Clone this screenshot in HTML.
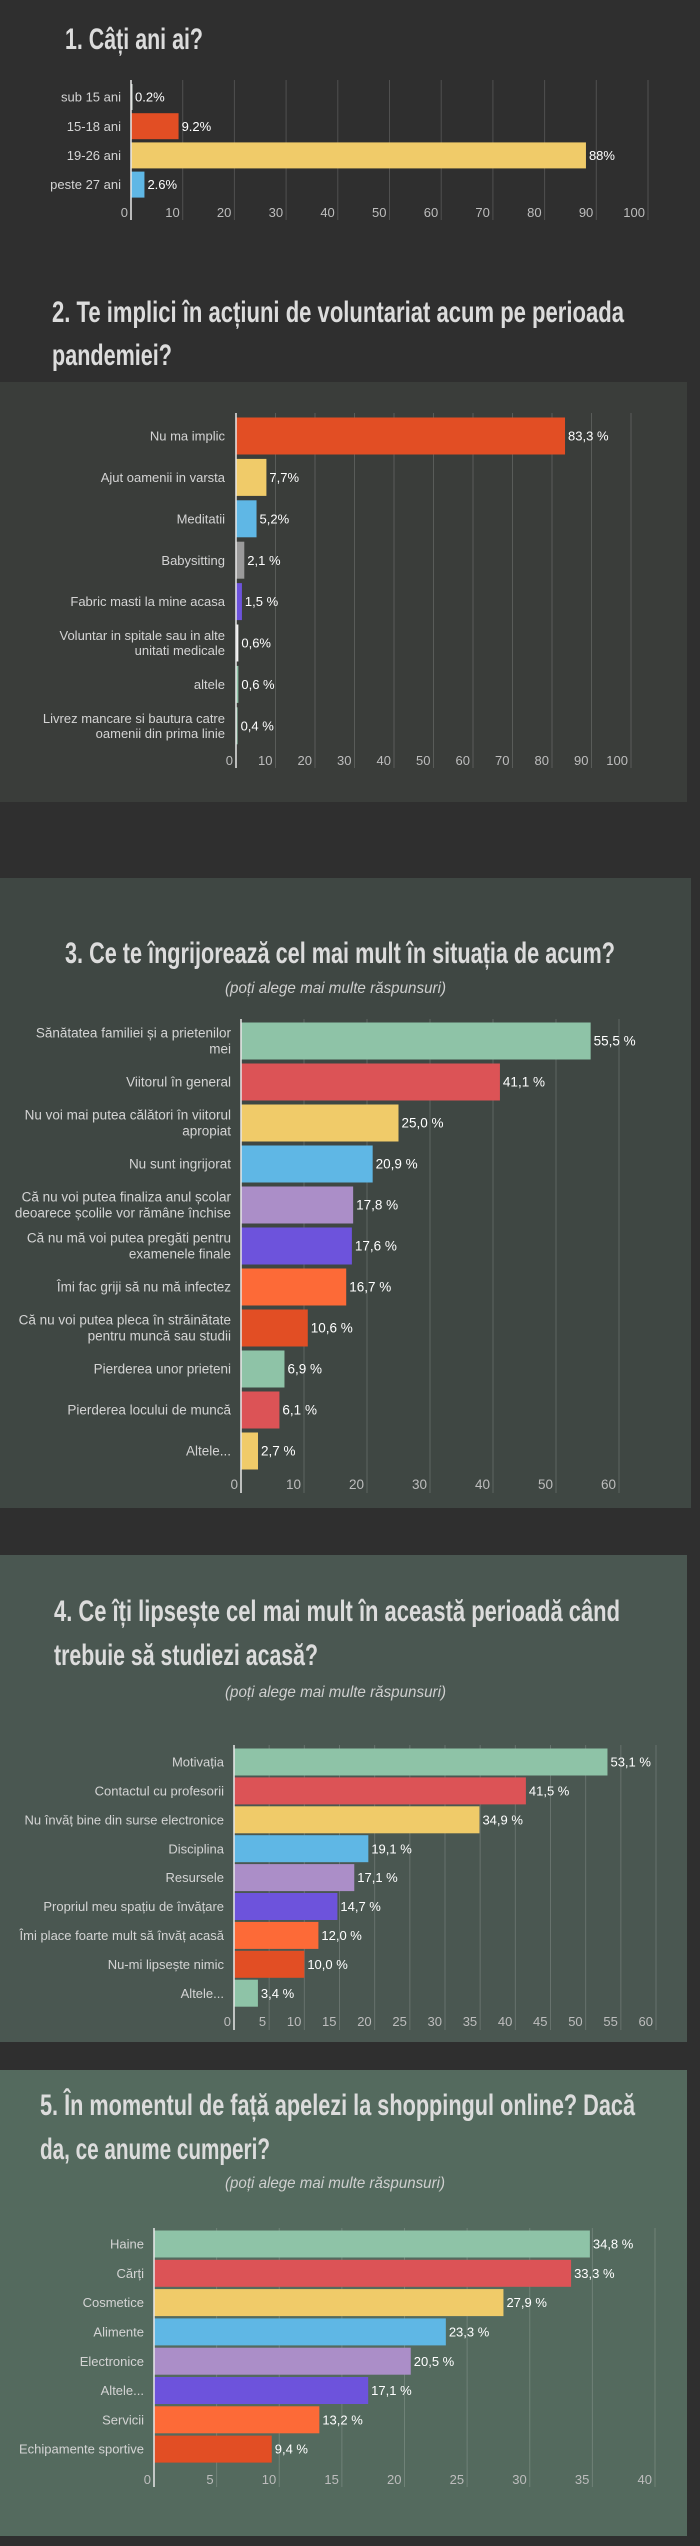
<!DOCTYPE html>
<html><head><meta charset="utf-8">
<style>
html,body{margin:0;padding:0;background:#2f2f2f;}
svg{display:block;}
.t{font-family:"Liberation Sans Narrow","Liberation Sans",sans-serif;font-weight:bold;fill:#dcdcdc;}
.sub{font-family:"Liberation Sans Narrow","Liberation Sans",sans-serif;font-style:italic;fill:#cfcfcf;font-size:16px;}
.lab{font-family:"Liberation Sans Narrow","Liberation Sans",sans-serif;fill:#d4d4d4;}
.val{font-family:"Liberation Sans Narrow","Liberation Sans",sans-serif;fill:#ffffff;}
.tick{font-family:"Liberation Sans Narrow","Liberation Sans",sans-serif;fill:#bdbdbd;}
</style></head>
<body>
<svg id="page" xmlns="http://www.w3.org/2000/svg" width="700" height="2546" viewBox="0 0 700 2546">
<rect x="0" y="0" width="700" height="2546" fill="#2f2f2f"/>
<rect x="0" y="382" width="687" height="420" fill="#3a3d3a"/>
<rect x="0" y="878" width="691" height="630" fill="#3f4743"/>
<rect x="0" y="1555" width="687" height="487" fill="#4a5751"/>
<rect x="0" y="2070" width="687" height="466" fill="#546a5e"/>

<text class="t" x="65" y="49" font-size="30" textLength="138" lengthAdjust="spacingAndGlyphs">1. Câți ani ai?</text>
<text class="t" x="52" y="322" font-size="30" textLength="572" lengthAdjust="spacingAndGlyphs">2. Te implici în acțiuni de voluntariat acum pe perioada</text>
<text class="t" x="52" y="365" font-size="30" textLength="120" lengthAdjust="spacingAndGlyphs">pandemiei?</text>
<text class="t" x="65" y="963" font-size="30" textLength="550" lengthAdjust="spacingAndGlyphs">3. Ce te îngrijorează cel mai mult în situația de acum?</text>
<text class="sub" x="225" y="993" textLength="221" lengthAdjust="spacingAndGlyphs">(poți alege mai multe răspunsuri)</text>
<text class="t" x="54" y="1621" font-size="30" textLength="566" lengthAdjust="spacingAndGlyphs">4. Ce îți lipsește cel mai mult în această perioadă când</text>
<text class="t" x="54" y="1665" font-size="30" textLength="264" lengthAdjust="spacingAndGlyphs">trebuie să studiezi acasă?</text>
<text class="sub" x="225" y="1697" textLength="221" lengthAdjust="spacingAndGlyphs">(poți alege mai multe răspunsuri)</text>
<text class="t" x="40" y="2115" font-size="30" textLength="595" lengthAdjust="spacingAndGlyphs">5. În momentul de față apelezi la shoppingul online? Dacă</text>
<text class="t" x="40" y="2159" font-size="30" textLength="230" lengthAdjust="spacingAndGlyphs">da, ce anume cumperi?</text>
<text class="sub" x="225" y="2188" textLength="220" lengthAdjust="spacingAndGlyphs">(poți alege mai multe răspunsuri)</text>
</svg>
<script>
// ---- Chart 1 data ----
const cats1 = [["sub 15 ani"],["15-18 ani"],["19-26 ani"],["peste 27 ani"]];
const vals1 = [0.2, 9.2, 88, 2.6];
const valLabels1 = ["0.2%","9.2%","88%","2.6%"];
const ticks1 = [0,10,20,30,40,50,60,70,80,90,100];
const colors1 = ["#cfd8d3","#e24e24","#f0cb69","#5fb7e5"];
// ---- Chart 2 data ----
const cats2 = [["Nu ma implic"],["Ajut oamenii in varsta"],["Meditatii"],["Babysitting"],["Fabric masti la mine acasa"],["Voluntar in spitale sau in alte","unitati medicale"],["altele"],["Livrez mancare si bautura catre","oamenii din prima linie"]];
const vals2 = [83.3, 7.7, 5.2, 2.1, 1.5, 0.6, 0.6, 0.4];
const valLabels2 = ["83,3 %","7,7%","5,2%","2,1 %","1,5 %","0,6%","0,6 %","0,4 %"];
const ticks2 = [0,10,20,30,40,50,60,70,80,90,100];
const colors2 = ["#e24e24","#f0cb69","#5fb7e5","#9a9a9a","#6d53dc","#f2f2f2","#8ec3a7","#8ec3a7"];
// ---- Chart 3 data ----
const cats3 = [["Sănătatea familiei și a prietenilor","mei"],["Viitorul în general"],["Nu voi mai putea călători în viitorul","apropiat"],["Nu sunt ingrijorat"],["Că nu voi putea finaliza anul școlar","deoarece școlile vor rămâne închise"],["Că nu mă voi putea pregăti pentru","examenele finale"],["Îmi fac griji să nu mă infectez"],["Că nu voi putea pleca în străinătate","pentru muncă sau studii"],["Pierderea unor prieteni"],["Pierderea locului de muncă"],["Altele..."]];
const vals3 = [55.5, 41.1, 25.0, 20.9, 17.8, 17.6, 16.7, 10.6, 6.9, 6.1, 2.7];
const valLabels3 = ["55,5 %","41,1 %","25,0 %","20,9 %","17,8 %","17,6 %","16,7 %","10,6 %","6,9 %","6,1 %","2,7 %"];
const ticks3 = [0,10,20,30,40,50,60];
const colors3 = ["#8ec3a7","#dc5356","#f0cb69","#5fb7e5","#ab8ec8","#6d53dc","#fd6a37","#e24e24","#8ec3a7","#dc5356","#f0cb69"];
// ---- Chart 4 data ----
const cats4 = [["Motivația"],["Contactul cu profesorii"],["Nu învăț bine din surse electronice"],["Disciplina"],["Resursele"],["Propriul meu spațiu de învățare"],["Îmi place foarte mult să învăț acasă"],["Nu-mi lipsește nimic"],["Altele..."]];
const vals4 = [53.1, 41.5, 34.9, 19.1, 17.1, 14.7, 12.0, 10.0, 3.4];
const valLabels4 = ["53,1 %","41,5 %","34,9 %","19,1 %","17,1 %","14,7 %","12,0 %","10,0 %","3,4 %"];
const ticks4 = [0,5,10,15,20,25,30,35,40,45,50,55,60];
const colors4 = ["#8ec3a7","#dc5356","#f0cb69","#5fb7e5","#ab8ec8","#6d53dc","#fd6a37","#e24e24","#8ec3a7"];
// ---- Chart 5 data ----
const cats5 = [["Haine"],["Cărți"],["Cosmetice"],["Alimente"],["Electronice"],["Altele..."],["Servicii"],["Echipamente sportive"]];
const vals5 = [34.8, 33.3, 27.9, 23.3, 20.5, 17.1, 13.2, 9.4];
const valLabels5 = ["34,8 %","33,3 %","27,9 %","23,3 %","20,5 %","17,1 %","13,2 %","9,4 %"];
const ticks5 = [0,5,10,15,20,25,30,35,40];
const colors5 = ["#8ec3a7","#dc5356","#f0cb69","#5fb7e5","#ab8ec8","#6d53dc","#fd6a37","#e24e24"];

const NS = "http://www.w3.org/2000/svg";
const svg = document.getElementById('page');
function mk(tag, attrs){const e=document.createElementNS(NS,tag);for(const k in attrs)e.setAttribute(k,attrs[k]);return e;}

function drawChart(id, cats, vals, labels, ticks, colors, g){
  const grp = mk('g',{});
  
  
  svg.appendChild(grp);
  const maxT = ticks[ticks.length-1];
  const x = v => g.x0 + (v/maxT)*(g.x1-g.x0);
  const y = i => g.yc0 + i*g.step;
  ticks.forEach((t,i)=>{
    if(i>0){
      const ln = mk('line',{x1:x(t),x2:x(t),y1:g.top,y2:g.bot,stroke:'rgba(255,255,255,0.16)','stroke-width':1});
      
      
      grp.appendChild(ln);
    }
    const tx = mk('text',{x:x(t)-3,y:g.tickY+4,'text-anchor':'end','font-size':g.tfs,class:'tick'});
    
    
    tx.textContent = t; grp.appendChild(tx);
  });
  vals.forEach((v,i)=>{
    const r = mk('rect',{x:x(0),y:y(i)-g.bh/2,width:Math.max(x(v)-x(0),1.5),height:g.bh,fill:colors[i]});
    
    
    grp.appendChild(r);
    const vt = mk('text',{x:x(v)+3,y:y(i)+g.fs*0.35,'font-size':g.fs,class:'val'});
    
    
    vt.textContent = labels[i]; grp.appendChild(vt);
    const lines = cats[i];
    lines.forEach((s,j)=>{
      const off = (j-(lines.length-1)/2)*g.lh;
      const lt = mk('text',{x:g.labR,y:y(i)+off+g.fs*0.35,'text-anchor':'end','font-size':g.fs,class:'lab'});
      
      
      lt.textContent = s; grp.appendChild(lt);
    });
  });
  const ax = mk('line',{x1:g.x0,x2:g.x0,y1:g.top,y2:g.bot,stroke:'#e8e8e8','stroke-width':1.5});
  
  
  grp.appendChild(ax);
}
drawChart('1',cats1,vals1,valLabels1,ticks1,colors1,{x0:131,x1:648,top:80,bot:220,yc0:97,step:29.2,bh:26,tickY:213,labR:121,fs:13,tfs:13,lh:14});
drawChart('2',cats2,vals2,valLabels2,ticks2,colors2,{x0:236,x1:631,top:413,bot:768,yc0:436,step:41.4,bh:37,tickY:761,labR:225,fs:13,tfs:13,lh:15});
drawChart('3',cats3,vals3,valLabels3,ticks3,colors3,{x0:241,x1:619,top:1019,bot:1493,yc0:1041,step:41,bh:37,tickY:1485,labR:231,fs:13.5,tfs:13.5,lh:16});
drawChart('4',cats4,vals4,valLabels4,ticks4,colors4,{x0:234,x1:656,top:1745,bot:2030,yc0:1762,step:28.9,bh:27,tickY:2022,labR:224,fs:13,tfs:13,lh:13});
drawChart('5',cats5,vals5,valLabels5,ticks5,colors5,{x0:154,x1:655,top:2228,bot:2487,yc0:2244,step:29.3,bh:27,tickY:2480,labR:144,fs:13,tfs:13,lh:13});
</script>
</body></html>
